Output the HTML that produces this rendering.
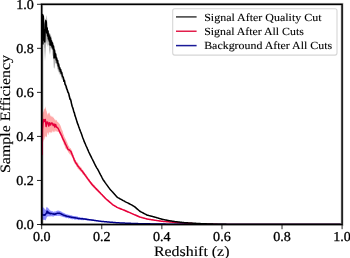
<!DOCTYPE html>
<html><head><meta charset="utf-8"><style>html,body{margin:0;padding:0;background:#fff;width:350px;height:258px;overflow:hidden}svg{display:block;will-change:transform}text{font-family:"Liberation Serif",serif;fill:#000;stroke:#000;stroke-width:0.3px;text-rendering:geometricPrecision}</style></head><body>
<svg width="350" height="258" viewBox="0 0 350 258">
<rect width="350" height="258" fill="#fff"/>
<defs><clipPath id="ax"><rect x="41.70" y="4.30" width="300.40" height="220.20"/></clipPath></defs>
<g clip-path="url(#ax)">
<line x1="42.6" y1="16" x2="42.6" y2="224.5" stroke="#000" stroke-opacity="0.55" stroke-width="1.2"/>
<polygon points="42.20,13.18 42.55,13.17 42.90,13.74 43.25,14.13 43.60,20.33 43.95,20.07 44.30,23.09 44.65,17.12 45.00,17.97 45.35,19.27 45.70,19.26 46.05,19.63 46.40,15.26 46.75,15.97 47.10,18.81 47.45,26.98 47.80,27.76 48.15,30.40 48.50,30.17 48.85,32.23 49.20,32.75 49.55,34.79 49.90,33.21 50.25,33.74 50.60,34.52 50.95,37.01 51.30,35.60 51.65,38.55 52.00,39.61 52.35,41.49 52.70,42.15 53.05,43.56 53.40,44.10 53.75,45.87 54.10,45.74 54.45,47.84 54.80,48.36 55.15,50.36 55.50,51.72 55.85,53.07 56.20,55.66 56.55,55.38 56.90,57.81 57.25,59.42 57.60,59.15 57.95,61.03 58.30,62.24 58.65,64.03 59.00,64.94 59.35,65.27 59.70,65.37 60.05,67.24 60.40,68.64 60.75,69.21 61.10,70.29 61.45,70.50 61.80,71.01 62.15,72.56 62.50,73.51 62.85,75.02 63.20,74.07 63.55,75.94 63.90,76.06 64.25,78.43 64.60,79.26 64.95,79.19 65.30,80.49 65.65,83.36 66.00,82.71 66.35,84.46 66.70,85.96 67.05,86.24 67.40,87.10 67.75,89.74 68.10,90.12 68.45,90.56 68.80,92.13 69.15,93.52 69.50,95.23 69.85,96.06 70.20,96.52 70.55,98.37 70.90,98.92 71.25,100.87 71.60,101.58 71.95,103.00 72.30,103.98 72.85,106.30 73.40,107.46 73.95,109.50 74.50,112.16 75.05,113.31 75.60,115.92 76.15,117.65 76.70,119.52 77.25,120.86 77.80,122.83 78.35,124.30 78.90,125.57 79.45,127.04 80.00,128.85 80.55,130.05 81.10,131.73 81.65,133.69 82.20,135.14 82.75,136.50 83.30,138.18 83.85,139.39 84.40,141.13 84.95,142.36 85.50,143.67 86.05,144.99 86.60,145.78 87.15,147.15 87.70,148.32 88.25,149.98 88.80,150.96 89.35,152.28 89.90,153.58 90.45,154.80 91.00,155.88 91.55,156.71 92.10,157.84 92.65,159.22 93.20,160.16 93.75,161.59 94.30,162.59 94.85,163.78 95.40,164.64 95.95,165.94 96.50,166.74 97.05,167.89 97.60,168.50 98.15,169.48 98.70,170.68 99.25,171.56 99.80,172.84 100.35,173.89 100.90,175.05 101.45,175.85 102.00,176.92 102.55,178.18 103.10,179.05 103.65,180.08 104.20,180.85 104.75,181.50 105.30,182.30 105.85,183.07 106.40,183.90 106.95,184.74 107.50,185.41 108.05,186.31 108.60,187.07 109.15,187.89 109.70,188.52 110.25,189.02 110.80,189.76 111.35,190.41 111.90,190.91 112.45,191.62 113.00,192.16 113.55,192.75 114.10,193.39 114.65,193.97 115.20,194.64 115.75,195.23 116.30,195.93 116.85,196.56 117.40,197.05 117.95,197.39 118.50,197.67 119.05,197.93 119.60,198.20 120.15,198.60 120.70,198.84 121.25,199.28 121.80,199.57 122.35,199.74 122.90,200.05 123.45,200.37 124.00,200.77 124.55,200.97 125.10,201.33 125.65,201.67 126.20,201.96 126.75,202.22 127.30,202.45 127.85,202.82 128.40,203.01 128.95,203.34 129.50,203.55 130.05,203.94 130.60,204.17 131.15,204.42 131.70,204.79 132.25,205.09 132.80,205.44 133.35,205.78 133.90,206.10 134.45,206.37 135.00,206.85 135.55,207.28 136.10,207.86 136.65,208.28 137.20,208.77 137.75,209.24 138.30,209.78 138.85,210.17 139.40,210.73 139.95,211.10 140.50,211.42 141.05,211.67 141.60,212.01 142.15,212.22 142.70,212.59 143.25,212.78 143.80,213.14 144.35,213.37 144.90,213.67 145.45,213.97 146.00,214.27 146.55,214.61 147.10,214.85 147.65,215.06 148.20,215.17 148.75,215.36 149.30,215.43 149.85,215.65 150.40,215.70 150.95,215.84 151.50,216.01 152.05,216.15 152.60,216.31 153.15,216.45 153.70,216.59 154.25,216.79 154.80,216.88 155.35,217.01 155.90,217.21 156.45,217.38 157.00,217.58 157.55,217.75 158.10,217.86 158.65,218.01 159.20,218.16 159.75,218.35 160.30,218.52 160.85,218.63 161.40,218.80 161.95,218.98 162.50,219.16 163.05,219.23 163.60,219.29 164.15,219.42 164.70,219.62 165.25,219.65 165.80,219.75 166.35,219.87 166.90,220.02 167.45,220.17 168.00,220.25 168.55,220.42 169.10,220.52 169.65,220.55 170.20,220.69 170.75,220.78 171.30,220.81 171.85,220.86 172.40,220.98 172.95,221.13 173.50,221.15 174.05,221.21 174.60,221.28 175.15,221.43 175.70,221.48 176.25,221.51 176.80,221.56 177.35,221.64 177.90,221.71 178.45,221.80 179.00,221.89 179.55,221.88 180.10,221.96 180.65,222.06 181.20,222.06 181.75,222.20 182.30,222.25 182.85,222.30 183.40,222.31 183.95,222.37 184.50,222.49 185.05,222.53 185.60,222.58 186.15,222.52 186.70,222.61 187.25,222.69 187.80,222.66 188.35,222.68 188.90,222.68 189.45,222.80 190.00,222.85 190.55,222.84 191.10,222.92 191.65,222.96 192.20,222.88 192.75,223.00 193.30,223.00 193.85,222.99 194.40,223.09 194.95,223.15 195.50,223.10 196.05,223.22 196.60,223.17 197.15,223.20 197.70,223.29 198.25,223.33 198.80,223.35 199.35,223.34 199.90,223.37 200.45,223.41 201.00,223.40 201.55,223.49 202.10,223.43 202.65,223.46 203.20,223.56 203.75,223.52 204.30,223.54 204.85,223.55 205.40,223.65 205.95,223.62 206.50,223.64 207.05,223.69 207.60,223.68 208.15,223.73 208.70,223.74 209.25,223.80 209.80,223.84 210.35,223.86 210.90,223.88 211.45,223.88 212.00,223.94 212.55,223.88 213.10,223.90 213.65,224.00 214.20,223.98 214.75,223.95 215.30,224.06 215.85,223.96 216.40,224.07 216.95,224.08 217.50,224.00 218.05,224.03 218.60,224.04 219.15,224.11 219.70,224.04 220.25,224.10 220.80,224.14 221.35,224.12 221.90,224.12 222.45,224.06 223.00,224.08 223.55,224.18 224.10,224.14 224.65,224.16 225.20,224.15 225.75,224.12 226.30,224.13 226.85,224.24 227.40,224.15 227.95,224.25 228.50,224.20 229.05,224.25 229.60,224.24 230.15,224.26 230.70,224.26 231.25,224.22 231.80,224.30 232.35,224.31 232.90,224.24 233.45,224.26 234.00,224.30 234.55,224.25 235.10,224.25 235.65,224.34 236.20,224.25 236.75,224.31 237.30,224.33 237.85,224.30 238.40,224.27 238.95,224.32 239.50,224.34 240.05,224.28 240.60,224.34 241.15,224.27 241.70,224.34 242.25,224.25 242.80,224.34 243.35,224.28 243.90,224.34 244.45,224.33 245.00,224.30 245.55,224.32 246.10,224.24 246.65,224.35 247.20,224.35 247.75,224.24 248.30,224.27 248.85,224.34 249.40,224.35 249.95,224.31 250.50,224.31 251.05,224.28 251.60,224.28 252.15,224.34 252.70,224.31 253.25,224.25 253.80,224.29 254.35,224.31 254.90,224.27 255.45,224.27 256.00,224.26 256.55,224.28 257.10,224.32 257.65,224.35 258.20,224.27 258.75,224.28 259.30,224.31 259.85,224.29 260.40,224.28 260.95,224.34 261.50,224.27 262.05,224.30 262.60,224.36 263.15,224.34 263.70,224.25 264.25,224.35 264.80,224.30 265.35,224.30 265.90,224.26 266.45,224.31 267.00,224.33 267.55,224.31 268.10,224.35 268.65,224.32 269.20,224.33 269.75,224.36 270.30,224.31 270.85,224.32 271.40,224.33 271.95,224.25 272.50,224.33 273.05,224.31 273.60,224.34 274.15,224.26 274.70,224.30 275.25,224.33 275.80,224.32 276.35,224.26 276.90,224.30 277.45,224.29 278.00,224.26 278.55,224.26 279.10,224.31 279.65,224.31 280.20,224.36 280.75,224.33 281.30,224.32 281.85,224.31 282.40,224.28 282.95,224.25 283.50,224.35 284.05,224.25 284.60,224.34 285.15,224.28 285.70,224.36 286.25,224.28 286.80,224.35 287.35,224.33 287.90,224.32 288.45,224.25 289.00,224.34 289.55,224.29 290.10,224.28 290.65,224.27 291.20,224.34 291.75,224.30 292.30,224.31 292.85,224.29 293.40,224.33 293.95,224.30 294.50,224.30 295.05,224.30 295.60,224.30 296.15,224.36 296.70,224.30 297.25,224.28 297.80,224.32 298.35,224.24 298.90,224.28 299.45,224.36 300.00,224.28 300.55,224.32 301.10,224.30 301.65,224.25 302.20,224.27 302.75,224.32 303.30,224.32 303.85,224.30 304.40,224.33 304.95,224.31 305.50,224.26 306.05,224.26 306.60,224.30 307.15,224.30 307.70,224.28 308.25,224.32 308.80,224.32 309.35,224.28 309.90,224.36 310.45,224.25 311.00,224.35 311.55,224.36 312.10,224.25 312.65,224.28 313.20,224.25 313.75,224.29 314.30,224.28 314.85,224.28 315.40,224.28 315.95,224.27 316.50,224.34 317.05,224.27 317.60,224.28 318.15,224.26 318.70,224.29 319.25,224.32 319.80,224.32 320.35,224.28 320.90,224.35 321.45,224.36 322.00,224.26 322.55,224.25 323.10,224.36 323.65,224.29 324.20,224.24 324.75,224.31 325.30,224.28 325.85,224.34 326.40,224.36 326.95,224.35 327.50,224.35 328.05,224.34 328.60,224.27 329.15,224.27 329.70,224.35 330.25,224.27 330.80,224.27 331.35,224.28 331.90,224.30 332.45,224.33 333.00,224.27 333.55,224.36 334.10,224.26 334.65,224.32 335.20,224.34 335.75,224.30 336.30,224.32 336.85,224.31 337.40,224.34 337.95,224.32 338.50,224.28 339.05,224.31 339.60,224.25 340.15,224.29 340.70,224.35 340.70,224.76 340.15,224.68 339.60,224.73 339.05,224.73 338.50,224.69 337.95,224.72 337.40,224.74 336.85,224.72 336.30,224.71 335.75,224.65 335.20,224.74 334.65,224.73 334.10,224.65 333.55,224.72 333.00,224.64 332.45,224.76 331.90,224.75 331.35,224.73 330.80,224.65 330.25,224.74 329.70,224.73 329.15,224.66 328.60,224.67 328.05,224.64 327.50,224.74 326.95,224.76 326.40,224.72 325.85,224.64 325.30,224.67 324.75,224.65 324.20,224.70 323.65,224.75 323.10,224.69 322.55,224.69 322.00,224.71 321.45,224.65 320.90,224.71 320.35,224.75 319.80,224.69 319.25,224.69 318.70,224.67 318.15,224.73 317.60,224.68 317.05,224.75 316.50,224.64 315.95,224.65 315.40,224.69 314.85,224.67 314.30,224.71 313.75,224.72 313.20,224.71 312.65,224.73 312.10,224.71 311.55,224.66 311.00,224.68 310.45,224.71 309.90,224.73 309.35,224.73 308.80,224.71 308.25,224.68 307.70,224.74 307.15,224.76 306.60,224.67 306.05,224.69 305.50,224.68 304.95,224.71 304.40,224.69 303.85,224.73 303.30,224.70 302.75,224.74 302.20,224.72 301.65,224.64 301.10,224.70 300.55,224.76 300.00,224.75 299.45,224.71 298.90,224.72 298.35,224.65 297.80,224.69 297.25,224.74 296.70,224.71 296.15,224.74 295.60,224.74 295.05,224.70 294.50,224.66 293.95,224.65 293.40,224.66 292.85,224.67 292.30,224.75 291.75,224.73 291.20,224.72 290.65,224.74 290.10,224.75 289.55,224.73 289.00,224.75 288.45,224.74 287.90,224.66 287.35,224.73 286.80,224.66 286.25,224.67 285.70,224.75 285.15,224.64 284.60,224.74 284.05,224.73 283.50,224.74 282.95,224.74 282.40,224.68 281.85,224.72 281.30,224.70 280.75,224.67 280.20,224.73 279.65,224.66 279.10,224.67 278.55,224.67 278.00,224.68 277.45,224.66 276.90,224.68 276.35,224.74 275.80,224.72 275.25,224.76 274.70,224.71 274.15,224.72 273.60,224.73 273.05,224.67 272.50,224.74 271.95,224.70 271.40,224.73 270.85,224.67 270.30,224.72 269.75,224.69 269.20,224.69 268.65,224.65 268.10,224.76 267.55,224.73 267.00,224.72 266.45,224.75 265.90,224.70 265.35,224.72 264.80,224.73 264.25,224.71 263.70,224.70 263.15,224.73 262.60,224.71 262.05,224.76 261.50,224.69 260.95,224.72 260.40,224.75 259.85,224.69 259.30,224.69 258.75,224.67 258.20,224.73 257.65,224.69 257.10,224.72 256.55,224.69 256.00,224.72 255.45,224.72 254.90,224.75 254.35,224.67 253.80,224.73 253.25,224.69 252.70,224.73 252.15,224.71 251.60,224.70 251.05,224.70 250.50,224.73 249.95,224.64 249.40,224.66 248.85,224.72 248.30,224.69 247.75,224.74 247.20,224.69 246.65,224.76 246.10,224.73 245.55,224.66 245.00,224.66 244.45,224.68 243.90,224.66 243.35,224.74 242.80,224.68 242.25,224.67 241.70,224.70 241.15,224.71 240.60,224.69 240.05,224.73 239.50,224.74 238.95,224.68 238.40,224.72 237.85,224.73 237.30,224.70 236.75,224.75 236.20,224.70 235.65,224.67 235.10,224.64 234.55,224.64 234.00,224.67 233.45,224.66 232.90,224.70 232.35,224.69 231.80,224.67 231.25,224.64 230.70,224.60 230.15,224.68 229.60,224.66 229.05,224.61 228.50,224.64 227.95,224.59 227.40,224.64 226.85,224.54 226.30,224.53 225.75,224.51 225.20,224.52 224.65,224.57 224.10,224.57 223.55,224.52 223.00,224.53 222.45,224.51 221.90,224.48 221.35,224.52 220.80,224.46 220.25,224.47 219.70,224.44 219.15,224.41 218.60,224.43 218.05,224.48 217.50,224.48 216.95,224.37 216.40,224.39 215.85,224.47 215.30,224.45 214.75,224.44 214.20,224.41 213.65,224.36 213.10,224.35 212.55,224.32 212.00,224.23 211.45,224.22 210.90,224.29 210.35,224.16 209.80,224.24 209.25,224.18 208.70,224.13 208.15,224.15 207.60,224.15 207.05,224.12 206.50,224.12 205.95,224.06 205.40,224.07 204.85,223.97 204.30,223.95 203.75,224.00 203.20,223.90 202.65,223.85 202.10,223.85 201.55,223.88 201.00,223.84 200.45,223.81 199.90,223.77 199.35,223.80 198.80,223.76 198.25,223.64 197.70,223.61 197.15,223.62 196.60,223.59 196.05,223.60 195.50,223.56 194.95,223.54 194.40,223.44 193.85,223.39 193.30,223.42 192.75,223.38 192.20,223.29 191.65,223.31 191.10,223.30 190.55,223.20 190.00,223.20 189.45,223.22 188.90,223.16 188.35,223.10 187.80,223.05 187.25,223.05 186.70,222.97 186.15,223.00 185.60,222.95 185.05,222.86 184.50,222.90 183.95,222.78 183.40,222.69 182.85,222.67 182.30,222.59 181.75,222.53 181.20,222.43 180.65,222.39 180.10,222.41 179.55,222.29 179.00,222.20 178.45,222.12 177.90,222.14 177.35,222.12 176.80,221.97 176.25,221.88 175.70,221.84 175.15,221.85 174.60,221.75 174.05,221.63 173.50,221.56 172.95,221.54 172.40,221.45 171.85,221.32 171.30,221.21 170.75,221.15 170.20,221.09 169.65,221.02 169.10,220.94 168.55,220.73 168.00,220.63 167.45,220.51 166.90,220.48 166.35,220.27 165.80,220.18 165.25,220.05 164.70,219.96 164.15,219.92 163.60,219.71 163.05,219.70 162.50,219.59 161.95,219.45 161.40,219.32 160.85,219.05 160.30,218.91 159.75,218.71 159.20,218.64 158.65,218.39 158.10,218.22 157.55,218.11 157.00,217.94 156.45,217.74 155.90,217.58 155.35,217.49 154.80,217.26 154.25,217.16 153.70,217.00 153.15,216.88 152.60,216.73 152.05,216.56 151.50,216.45 150.95,216.25 150.40,216.10 149.85,216.02 149.30,215.93 148.75,215.70 148.20,215.58 147.65,215.44 147.10,215.27 146.55,215.07 146.00,214.69 145.45,214.40 144.90,214.16 144.35,213.84 143.80,213.51 143.25,213.34 142.70,212.93 142.15,212.75 141.60,212.40 141.05,212.17 140.50,211.79 139.95,211.53 139.40,211.13 138.85,210.69 138.30,210.17 137.75,209.64 137.20,209.25 136.65,208.77 136.10,208.30 135.55,207.73 135.00,207.25 134.45,206.95 133.90,206.53 133.35,206.22 132.80,205.95 132.25,205.52 131.70,205.25 131.15,204.85 130.60,204.64 130.05,204.30 129.50,204.08 128.95,203.76 128.40,203.47 127.85,203.22 127.30,202.92 126.75,202.70 126.20,202.37 125.65,202.11 125.10,201.87 124.55,201.49 124.00,201.30 123.45,200.94 122.90,200.63 122.35,200.36 121.80,200.00 121.25,199.72 120.70,199.52 120.15,199.20 119.60,198.78 119.05,198.57 118.50,198.20 117.95,198.03 117.40,197.62 116.85,197.16 116.30,196.44 115.75,195.82 115.20,195.25 114.65,194.62 114.10,193.98 113.55,193.51 113.00,192.87 112.45,192.21 111.90,191.61 111.35,191.01 110.80,190.32 110.25,189.90 109.70,189.29 109.15,188.52 108.60,187.66 108.05,187.05 107.50,186.14 106.95,185.44 106.40,184.67 105.85,184.02 105.30,183.25 104.75,182.36 104.20,181.68 103.65,180.86 103.10,180.18 102.55,179.00 102.00,177.83 101.45,176.95 100.90,175.94 100.35,174.75 99.80,173.84 99.25,172.76 98.70,171.61 98.15,170.76 97.60,169.66 97.05,168.71 96.50,167.83 95.95,167.20 95.40,165.82 94.85,164.85 94.30,163.97 93.75,162.71 93.20,161.60 92.65,160.67 92.10,159.32 91.55,158.19 91.00,157.20 90.45,155.95 89.90,155.01 89.35,153.91 88.80,152.51 88.25,151.74 87.70,150.21 87.15,149.35 86.60,148.07 86.05,146.58 85.50,145.16 84.95,144.50 84.40,142.93 83.85,141.93 83.30,140.15 82.75,138.56 82.20,137.66 81.65,136.10 81.10,134.27 80.55,132.85 80.00,131.28 79.45,130.23 78.90,128.30 78.35,127.01 77.80,125.18 77.25,124.53 76.70,122.43 76.15,121.14 75.60,118.66 75.05,117.55 74.50,115.25 73.95,113.69 73.40,112.08 72.85,110.05 72.30,107.67 71.95,106.77 71.60,106.07 71.25,104.23 70.90,103.92 70.55,102.15 70.20,101.19 69.85,100.46 69.50,99.26 69.15,97.95 68.80,97.14 68.45,96.05 68.10,94.97 67.75,93.42 67.40,92.49 67.05,92.02 66.70,91.03 66.35,89.15 66.00,88.53 65.65,87.69 65.30,86.02 64.95,85.71 64.60,84.30 64.25,83.07 63.90,82.09 63.55,81.88 63.20,80.54 62.85,80.09 62.50,79.56 62.15,79.29 61.80,78.38 61.45,78.66 61.10,76.55 60.75,75.40 60.40,74.63 60.05,73.98 59.70,74.99 59.35,72.20 59.00,73.75 58.65,71.34 58.30,71.79 57.95,70.92 57.60,69.00 57.25,68.71 56.90,65.94 56.55,64.33 56.20,63.10 55.85,63.70 55.50,63.02 55.15,62.98 54.80,66.72 54.45,69.01 54.10,67.72 53.75,67.75 53.40,60.58 53.05,55.51 52.70,55.94 52.35,53.50 52.00,49.00 51.65,49.54 51.30,49.43 50.95,48.10 50.60,48.87 50.25,54.38 49.90,50.15 49.55,54.94 49.20,52.36 48.85,45.80 48.50,44.68 48.15,45.03 47.80,41.07 47.45,47.17 47.10,45.28 46.75,43.75 46.40,40.53 46.05,45.00 45.70,50.54 45.35,61.14 45.00,50.48 44.65,61.50 44.30,48.18 43.95,47.20 43.60,39.41 43.25,35.43 42.90,37.91 42.55,35.12 42.20,37.92" fill="#000" fill-opacity="0.3"/>
<polygon points="42.20,115.35 42.55,112.91 42.90,113.64 43.25,111.49 43.60,111.71 43.95,109.05 44.30,108.43 44.65,108.80 45.00,110.07 45.35,106.35 45.70,107.64 46.05,109.27 46.40,110.87 46.75,111.59 47.10,113.66 47.45,115.56 47.80,112.88 48.15,114.22 48.50,112.83 48.85,112.63 49.20,114.96 49.55,112.02 49.90,112.96 50.25,115.50 50.60,116.42 50.95,115.29 51.30,115.93 51.65,117.19 52.00,116.00 52.35,116.74 52.70,117.61 53.05,116.25 53.40,118.34 53.75,117.47 54.10,118.48 54.45,119.06 54.80,119.86 55.15,119.29 55.50,120.49 55.85,120.58 56.20,119.65 56.75,120.41 57.30,121.77 57.85,121.90 58.40,122.60 58.95,123.21 59.50,123.65 60.05,124.75 60.60,125.99 61.15,127.47 61.70,129.42 62.25,130.25 62.80,131.64 63.35,134.00 63.90,135.00 64.45,136.90 65.00,137.82 65.55,139.01 66.10,139.96 66.65,141.47 67.20,142.56 67.75,144.02 68.30,145.41 68.85,145.93 69.40,147.37 69.95,148.84 70.50,147.83 71.05,149.03 71.60,150.20 72.15,151.26 72.70,152.98 73.25,154.75 73.80,155.91 74.35,157.68 74.90,158.67 75.45,159.84 76.00,160.69 76.55,161.85 77.10,162.48 77.65,162.40 78.20,163.32 78.75,165.22 79.30,166.05 79.85,165.85 80.40,166.89 80.95,167.20 81.50,167.71 82.05,168.69 82.60,170.04 83.15,170.02 83.70,171.68 84.25,172.33 84.80,172.96 85.35,174.07 85.90,174.18 86.45,174.76 87.00,175.70 87.55,176.78 88.10,177.64 88.65,177.90 89.20,179.23 89.75,179.42 90.30,180.98 90.85,181.67 91.40,182.33 91.95,182.59 92.50,183.31 93.05,183.86 93.60,184.87 94.15,184.88 94.70,185.50 95.25,186.25 95.80,186.94 96.35,188.00 96.90,188.28 97.45,188.48 98.00,189.20 98.55,189.84 99.10,190.76 99.65,190.82 100.20,191.72 100.75,192.65 101.30,192.98 101.85,193.63 102.40,193.95 102.95,194.84 103.50,195.24 104.05,195.55 104.60,196.54 105.15,197.22 105.70,197.68 106.25,198.07 106.80,198.78 107.35,199.01 107.90,199.40 108.45,200.26 109.00,200.60 109.55,201.25 110.10,201.66 110.65,202.01 111.20,202.56 111.75,203.02 112.30,203.65 112.85,203.67 113.40,204.48 113.95,204.39 114.50,205.17 115.05,205.36 115.60,205.65 116.15,205.83 116.70,206.31 117.25,206.65 117.80,207.07 118.35,207.39 118.90,207.26 119.45,207.77 120.00,207.72 120.55,208.23 121.10,208.19 121.65,208.62 122.20,208.64 122.75,209.05 123.30,209.28 123.85,209.56 124.40,209.66 124.95,209.79 125.50,210.00 126.05,210.40 126.60,210.77 127.15,210.86 127.70,211.07 128.25,211.41 128.80,211.78 129.35,211.90 129.90,212.05 130.45,212.26 131.00,212.53 131.55,212.94 132.10,213.11 132.65,213.42 133.20,213.56 133.75,213.72 134.30,214.16 134.85,214.32 135.40,214.68 135.95,214.89 136.50,214.93 137.05,215.21 137.60,215.42 138.15,215.71 138.70,216.00 139.25,216.35 139.80,216.40 140.35,216.64 140.90,216.88 141.45,217.12 142.00,217.09 142.55,217.41 143.10,217.49 143.65,217.63 144.20,217.74 144.75,218.01 145.30,217.96 145.85,218.32 146.40,218.43 146.95,218.51 147.50,218.63 148.05,218.79 148.60,218.91 149.15,218.88 149.70,219.02 150.25,219.11 150.80,219.17 151.35,219.21 151.90,219.24 152.45,219.55 153.00,219.57 153.55,219.53 154.10,219.66 154.65,219.75 155.20,219.97 155.75,220.10 156.30,220.14 156.85,220.11 157.40,220.15 157.95,220.24 158.50,220.31 159.05,220.57 159.60,220.61 160.15,220.62 160.70,220.83 161.25,220.77 161.80,220.86 162.35,220.94 162.90,221.00 163.45,221.14 164.00,221.06 164.55,221.22 165.10,221.12 165.65,221.33 166.20,221.37 166.75,221.40 167.30,221.43 167.85,221.45 168.40,221.39 168.95,221.48 169.50,221.48 170.05,221.66 170.60,221.68 171.15,221.66 171.70,221.85 172.25,221.79 172.80,221.89 173.35,221.86 173.90,221.91 174.45,222.13 175.00,222.15 175.55,222.13 176.10,222.26 176.65,222.25 177.20,222.32 177.75,222.45 178.30,222.44 178.85,222.46 179.40,222.60 179.95,222.52 180.50,222.64 181.05,222.67 181.60,222.65 182.15,222.58 182.70,222.70 183.25,222.67 183.80,222.74 184.35,222.83 184.90,222.77 185.45,222.77 186.00,222.93 186.55,222.87 187.10,222.92 187.65,222.97 188.20,223.10 188.75,223.08 189.30,223.07 189.85,223.15 190.40,223.16 190.95,223.26 191.50,223.20 192.05,223.21 192.60,223.31 193.15,223.32 193.70,223.27 194.25,223.25 194.80,223.29 195.35,223.47 195.90,223.40 196.45,223.47 197.00,223.48 197.55,223.57 198.10,223.43 198.65,223.57 199.20,223.61 199.75,223.53 200.30,223.61 200.85,223.60 201.40,223.61 201.95,223.62 202.50,223.67 203.05,223.65 203.60,223.76 204.15,223.81 204.70,223.70 205.25,223.72 205.80,223.85 206.35,223.81 206.90,223.83 207.45,223.97 208.00,223.99 208.55,223.96 209.10,223.93 209.65,223.98 210.20,223.91 210.75,223.91 211.30,223.98 211.85,224.04 212.40,224.08 212.95,223.97 213.50,223.97 214.05,224.02 214.60,224.03 215.15,224.02 215.70,224.00 216.25,224.01 216.80,224.01 217.35,224.01 217.90,224.08 218.45,224.07 219.00,224.15 219.55,224.09 220.10,224.04 220.65,224.01 221.20,224.06 221.75,224.20 222.30,224.20 222.85,224.11 223.40,224.05 223.95,224.20 224.50,224.10 225.05,224.21 225.60,224.10 226.15,224.07 226.70,224.14 227.25,224.11 227.80,224.20 228.35,224.25 228.90,224.26 229.45,224.21 230.00,224.28 230.55,224.21 231.10,224.11 231.65,224.25 232.20,224.24 232.75,224.24 233.30,224.15 233.85,224.23 234.40,224.25 234.95,224.26 235.50,224.13 236.05,224.15 236.60,224.24 237.15,224.20 237.70,224.26 238.25,224.18 238.80,224.18 239.35,224.25 239.90,224.22 240.45,224.13 241.00,224.13 241.55,224.23 242.10,224.27 242.65,224.29 243.20,224.26 243.75,224.27 244.30,224.16 244.85,224.23 245.40,224.16 245.95,224.11 246.50,224.25 247.05,224.16 247.60,224.20 248.15,224.21 248.70,224.28 249.25,224.23 249.80,224.27 250.35,224.26 250.90,224.26 251.45,224.26 252.00,224.20 252.55,224.22 253.10,224.12 253.65,224.25 254.20,224.13 254.75,224.24 255.30,224.24 255.85,224.28 256.40,224.21 256.95,224.22 257.50,224.16 258.05,224.19 258.60,224.16 259.15,224.13 259.70,224.22 260.25,224.21 260.80,224.22 261.35,224.21 261.90,224.11 262.45,224.18 263.00,224.24 263.55,224.22 264.10,224.25 264.65,224.14 265.20,224.12 265.75,224.16 266.30,224.17 266.85,224.23 267.40,224.29 267.95,224.14 268.50,224.18 269.05,224.25 269.60,224.16 270.15,224.16 270.70,224.19 271.25,224.17 271.80,224.18 272.35,224.25 272.90,224.24 273.45,224.20 274.00,224.20 274.55,224.25 275.10,224.12 275.65,224.19 276.20,224.14 276.75,224.26 277.30,224.21 277.85,224.14 278.40,224.13 278.95,224.22 279.50,224.14 280.05,224.26 280.60,224.27 281.15,224.14 281.70,224.21 282.25,224.22 282.80,224.16 283.35,224.20 283.90,224.15 284.45,224.17 285.00,224.20 285.55,224.22 286.10,224.22 286.65,224.25 287.20,224.28 287.75,224.16 288.30,224.23 288.85,224.14 289.40,224.17 289.95,224.25 290.50,224.15 291.05,224.22 291.60,224.21 292.15,224.16 292.70,224.22 293.25,224.14 293.80,224.22 294.35,224.12 294.90,224.11 295.45,224.22 296.00,224.23 296.55,224.15 297.10,224.20 297.65,224.13 298.20,224.29 298.75,224.21 299.30,224.14 299.85,224.20 300.40,224.21 300.95,224.20 301.50,224.17 302.05,224.22 302.60,224.17 303.15,224.15 303.70,224.27 304.25,224.28 304.80,224.27 305.35,224.15 305.90,224.28 306.45,224.16 307.00,224.28 307.55,224.21 308.10,224.11 308.65,224.13 309.20,224.23 309.75,224.29 310.30,224.24 310.85,224.23 311.40,224.14 311.95,224.20 312.50,224.28 313.05,224.13 313.60,224.14 314.15,224.25 314.70,224.19 315.25,224.21 315.80,224.18 316.35,224.15 316.90,224.12 317.45,224.28 318.00,224.19 318.55,224.19 319.10,224.24 319.65,224.24 320.20,224.15 320.75,224.21 321.30,224.21 321.85,224.28 322.40,224.17 322.95,224.13 323.50,224.18 324.05,224.12 324.60,224.15 325.15,224.17 325.70,224.24 326.25,224.14 326.80,224.12 327.35,224.27 327.90,224.15 328.45,224.22 329.00,224.24 329.55,224.17 330.10,224.28 330.65,224.28 331.20,224.24 331.75,224.19 332.30,224.19 332.85,224.13 333.40,224.14 333.95,224.15 334.50,224.22 335.05,224.22 335.60,224.25 336.15,224.27 336.70,224.16 337.25,224.17 337.80,224.14 338.35,224.12 338.90,224.12 339.45,224.24 340.00,224.15 340.55,224.12 340.55,224.73 340.00,224.80 339.45,224.77 338.90,224.80 338.35,224.89 337.80,224.73 337.25,224.73 336.70,224.79 336.15,224.79 335.60,224.81 335.05,224.83 334.50,224.72 333.95,224.89 333.40,224.74 332.85,224.77 332.30,224.74 331.75,224.77 331.20,224.75 330.65,224.86 330.10,224.84 329.55,224.74 329.00,224.87 328.45,224.83 327.90,224.88 327.35,224.73 326.80,224.75 326.25,224.74 325.70,224.75 325.15,224.83 324.60,224.80 324.05,224.81 323.50,224.74 322.95,224.72 322.40,224.72 321.85,224.79 321.30,224.87 320.75,224.88 320.20,224.82 319.65,224.84 319.10,224.85 318.55,224.77 318.00,224.78 317.45,224.77 316.90,224.81 316.35,224.75 315.80,224.78 315.25,224.80 314.70,224.78 314.15,224.72 313.60,224.76 313.05,224.85 312.50,224.76 311.95,224.79 311.40,224.81 310.85,224.76 310.30,224.76 309.75,224.89 309.20,224.80 308.65,224.74 308.10,224.86 307.55,224.82 307.00,224.83 306.45,224.80 305.90,224.83 305.35,224.81 304.80,224.73 304.25,224.86 303.70,224.75 303.15,224.85 302.60,224.81 302.05,224.72 301.50,224.84 300.95,224.86 300.40,224.80 299.85,224.87 299.30,224.78 298.75,224.79 298.20,224.82 297.65,224.85 297.10,224.80 296.55,224.78 296.00,224.72 295.45,224.83 294.90,224.84 294.35,224.74 293.80,224.81 293.25,224.77 292.70,224.83 292.15,224.76 291.60,224.78 291.05,224.72 290.50,224.82 289.95,224.79 289.40,224.87 288.85,224.73 288.30,224.75 287.75,224.76 287.20,224.74 286.65,224.81 286.10,224.71 285.55,224.77 285.00,224.75 284.45,224.78 283.90,224.74 283.35,224.85 282.80,224.79 282.25,224.89 281.70,224.73 281.15,224.80 280.60,224.77 280.05,224.76 279.50,224.73 278.95,224.86 278.40,224.72 277.85,224.87 277.30,224.83 276.75,224.86 276.20,224.75 275.65,224.81 275.10,224.81 274.55,224.74 274.00,224.80 273.45,224.84 272.90,224.87 272.35,224.82 271.80,224.81 271.25,224.77 270.70,224.82 270.15,224.78 269.60,224.78 269.05,224.82 268.50,224.89 267.95,224.80 267.40,224.85 266.85,224.89 266.30,224.81 265.75,224.77 265.20,224.72 264.65,224.85 264.10,224.73 263.55,224.75 263.00,224.82 262.45,224.88 261.90,224.71 261.35,224.74 260.80,224.78 260.25,224.89 259.70,224.77 259.15,224.84 258.60,224.89 258.05,224.81 257.50,224.83 256.95,224.71 256.40,224.81 255.85,224.80 255.30,224.72 254.75,224.74 254.20,224.84 253.65,224.89 253.10,224.77 252.55,224.80 252.00,224.73 251.45,224.85 250.90,224.84 250.35,224.79 249.80,224.80 249.25,224.87 248.70,224.89 248.15,224.73 247.60,224.75 247.05,224.72 246.50,224.86 245.95,224.72 245.40,224.87 244.85,224.88 244.30,224.73 243.75,224.74 243.20,224.85 242.65,224.88 242.10,224.89 241.55,224.72 241.00,224.89 240.45,224.75 239.90,224.85 239.35,224.87 238.80,224.87 238.25,224.80 237.70,224.84 237.15,224.87 236.60,224.77 236.05,224.86 235.50,224.76 234.95,224.87 234.40,224.82 233.85,224.89 233.30,224.83 232.75,224.75 232.20,224.79 231.65,224.76 231.10,224.83 230.55,224.88 230.00,224.82 229.45,224.87 228.90,224.82 228.35,224.83 227.80,224.86 227.25,224.77 226.70,224.74 226.15,224.77 225.60,224.71 225.05,224.67 224.50,224.83 223.95,224.69 223.40,224.72 222.85,224.68 222.30,224.73 221.75,224.66 221.20,224.64 220.65,224.66 220.10,224.68 219.55,224.73 219.00,224.61 218.45,224.77 217.90,224.65 217.35,224.77 216.80,224.64 216.25,224.72 215.70,224.62 215.15,224.63 214.60,224.68 214.05,224.67 213.50,224.63 212.95,224.56 212.40,224.57 211.85,224.55 211.30,224.67 210.75,224.54 210.20,224.62 209.65,224.51 209.10,224.53 208.55,224.55 208.00,224.56 207.45,224.49 206.90,224.46 206.35,224.45 205.80,224.49 205.25,224.37 204.70,224.43 204.15,224.39 203.60,224.29 203.05,224.41 202.50,224.24 201.95,224.38 201.40,224.21 200.85,224.32 200.30,224.17 199.75,224.15 199.20,224.14 198.65,224.07 198.10,224.10 197.55,224.12 197.00,224.17 196.45,224.13 195.90,224.15 195.35,223.97 194.80,224.03 194.25,223.95 193.70,223.96 193.15,223.89 192.60,223.81 192.05,223.83 191.50,223.83 190.95,223.88 190.40,223.71 189.85,223.70 189.30,223.70 188.75,223.79 188.20,223.63 187.65,223.62 187.10,223.58 186.55,223.58 186.00,223.60 185.45,223.56 184.90,223.57 184.35,223.42 183.80,223.46 183.25,223.46 182.70,223.43 182.15,223.26 181.60,223.41 181.05,223.31 180.50,223.26 179.95,223.19 179.40,223.11 178.85,223.23 178.30,222.98 177.75,223.05 177.20,222.95 176.65,222.95 176.10,222.85 175.55,222.74 175.00,222.86 174.45,222.70 173.90,222.71 173.35,222.61 172.80,222.51 172.25,222.51 171.70,222.55 171.15,222.33 170.60,222.46 170.05,222.26 169.50,222.18 168.95,222.30 168.40,222.20 167.85,222.07 167.30,222.15 166.75,222.07 166.20,222.08 165.65,221.87 165.10,221.95 164.55,221.87 164.00,221.79 163.45,221.89 162.90,221.82 162.35,221.62 161.80,221.56 161.25,221.68 160.70,221.47 160.15,221.50 159.60,221.40 159.05,221.32 158.50,221.27 157.95,221.12 157.40,221.05 156.85,220.92 156.30,220.82 155.75,220.81 155.20,220.67 154.65,220.52 154.10,220.45 153.55,220.47 153.00,220.28 152.45,220.36 151.90,220.25 151.35,220.01 150.80,220.07 150.25,220.02 149.70,219.74 149.15,219.65 148.60,219.68 148.05,219.61 147.50,219.51 146.95,219.33 146.40,219.14 145.85,219.20 145.30,218.97 144.75,218.72 144.20,218.64 143.65,218.53 143.10,218.40 142.55,218.27 142.00,218.07 141.45,217.85 140.90,217.90 140.35,217.59 139.80,217.49 139.25,217.29 138.70,217.07 138.15,216.67 137.60,216.60 137.05,216.47 136.50,216.22 135.95,215.85 135.40,215.50 134.85,215.34 134.30,215.14 133.75,214.81 133.20,214.79 132.65,214.43 132.10,214.19 131.55,214.04 131.00,213.72 130.45,213.63 129.90,213.11 129.35,212.93 128.80,212.65 128.25,212.74 127.70,212.22 127.15,211.95 126.60,211.80 126.05,211.64 125.50,211.57 124.95,211.25 124.40,211.01 123.85,210.57 123.30,210.67 122.75,210.35 122.20,210.05 121.65,209.78 121.10,209.80 120.55,209.61 120.00,209.46 119.45,209.13 118.90,208.77 118.35,208.77 117.80,208.28 117.25,208.11 116.70,208.09 116.15,207.63 115.60,207.01 115.05,206.77 114.50,206.58 113.95,206.29 113.40,206.04 112.85,205.72 112.30,204.89 111.75,204.51 111.20,204.20 110.65,203.55 110.10,203.41 109.55,202.72 109.00,202.22 108.45,201.81 107.90,201.66 107.35,200.99 106.80,200.66 106.25,200.26 105.70,199.81 105.15,199.10 104.60,198.76 104.05,197.87 103.50,197.38 102.95,196.70 102.40,196.44 101.85,195.53 101.30,195.03 100.75,194.59 100.20,193.96 99.65,193.70 99.10,193.09 98.55,192.74 98.00,191.61 97.45,191.13 96.90,190.88 96.35,190.49 95.80,189.74 95.25,189.52 94.70,188.86 94.15,188.09 93.60,187.25 93.05,187.36 92.50,186.43 91.95,185.53 91.40,185.60 90.85,184.78 90.30,183.55 89.75,183.20 89.20,181.93 88.65,181.98 88.10,180.46 87.55,180.48 87.00,179.31 86.45,178.92 85.90,177.75 85.35,177.16 84.80,176.51 84.25,175.56 83.70,174.63 83.15,174.73 82.60,174.30 82.05,172.75 81.50,172.36 80.95,171.60 80.40,171.55 79.85,170.52 79.30,170.37 78.75,169.19 78.20,169.34 77.65,168.45 77.10,167.11 76.55,166.82 76.00,165.27 75.45,164.23 74.90,163.97 74.35,162.77 73.80,161.64 73.25,160.67 72.70,158.02 72.15,157.14 71.60,156.51 71.05,155.46 70.50,154.42 69.95,154.47 69.40,153.70 68.85,152.86 68.30,152.39 67.75,151.11 67.20,150.08 66.65,149.31 66.10,149.30 65.55,148.43 65.00,147.27 64.45,145.22 63.90,144.65 63.35,142.43 62.80,141.22 62.25,140.37 61.70,138.56 61.15,136.82 60.60,135.84 60.05,134.56 59.50,134.02 58.95,131.97 58.40,132.20 57.85,131.73 57.30,131.80 56.75,131.52 56.20,131.36 55.85,131.39 55.50,131.60 55.15,130.30 54.80,130.74 54.45,132.02 54.10,132.13 53.75,130.98 53.40,132.18 53.05,132.15 52.70,130.25 52.35,131.83 52.00,132.98 51.65,132.99 51.30,131.80 50.95,131.95 50.60,133.65 50.25,131.79 49.90,132.23 49.55,132.55 49.20,132.05 48.85,134.68 48.50,134.95 48.15,132.55 47.80,132.53 47.45,133.24 47.10,134.78 46.75,137.61 46.40,136.71 46.05,136.84 45.70,135.54 45.35,137.54 45.00,136.13 44.65,138.96 44.30,140.10 43.95,135.64 43.60,142.56 43.25,140.62 42.90,138.76 42.55,141.50 42.20,141.27" fill="#ff0000" fill-opacity="0.34"/>
<polyline points="42.10,155.00 42.40,130.00 43.00,123.00 43.80,119.50 44.60,121.50 45.30,119.50 46.10,126.50 47.00,122.00 47.90,122.50 48.80,126.00 49.70,122.80 50.60,125.00 51.50,123.00 52.40,123.20 53.20,125.50 54.00,124.00 54.80,127.00 55.60,124.50 56.40,127.00 57.30,127.50 58.20,128.50 59.10,130.50 60.00,132.50 60.50,133.33 61.05,134.64 61.60,135.49 62.15,136.90 62.70,138.33 63.25,139.41 63.80,140.48 64.35,141.53 64.90,142.84 65.45,144.21 66.00,145.04 66.55,146.29 67.10,147.35 67.65,148.58 68.20,149.51 68.75,149.70 69.30,150.01 69.85,150.52 70.40,151.00 70.95,151.55 71.50,152.96 72.05,154.31 72.60,155.39 73.15,156.97 73.70,158.32 74.25,159.69 74.80,160.97 75.35,162.02 75.90,162.98 76.45,163.79 77.00,164.59 77.55,165.46 78.10,166.17 78.65,166.90 79.20,167.64 79.75,168.33 80.30,168.89 80.85,169.62 81.40,170.30 81.95,170.86 82.50,171.56 83.05,172.27 83.60,173.01 84.15,173.75 84.70,174.52 85.25,175.34 85.80,176.11 86.35,176.85 86.90,177.58 87.45,178.39 88.00,179.12 88.55,179.81 89.10,180.57 89.65,181.33 90.20,182.06 90.75,182.77 91.30,183.50 91.85,184.24 92.40,184.89 92.95,185.46 93.50,186.02 94.05,186.62 94.60,187.17 95.15,187.75 95.70,188.31 96.25,188.88 96.80,189.43 97.35,190.00 97.90,190.60 98.45,191.14 99.00,191.70 99.55,192.28 100.10,192.85 100.65,193.40 101.20,193.98 101.75,194.53 102.30,195.10 102.85,195.66 103.40,196.22 103.95,196.81 104.50,197.37 105.05,197.93 105.60,198.49 106.15,199.01 106.70,199.49 107.25,199.96 107.80,200.44 108.35,200.90 108.90,201.38 109.45,201.85 110.00,202.31 110.55,202.78 111.10,203.25 111.65,203.72 112.20,204.20 112.75,204.67 113.30,205.05 113.85,205.39 114.40,205.72 114.95,206.06 115.50,206.40 116.05,206.73 116.60,207.07 117.15,207.41 117.70,207.66 118.25,207.88 118.80,208.09 119.35,208.32 119.90,208.53 120.45,208.75 121.00,208.97 121.55,209.19 122.10,209.41 122.65,209.62 123.20,209.85 123.75,210.07 124.30,210.28 124.85,210.50 125.40,210.73 125.95,210.97 126.50,211.22 127.05,211.46 127.60,211.70 128.15,211.94 128.70,212.18 129.25,212.42 129.80,212.66 130.35,212.90 130.90,213.14 131.45,213.38 132.00,213.63 132.55,213.87 133.10,214.11 133.65,214.34 134.20,214.58 134.75,214.82 135.30,215.06 135.85,215.30 136.40,215.54 136.95,215.78 137.50,216.02 138.05,216.26 138.60,216.50 139.15,216.74 139.70,216.98 140.25,217.14 140.80,217.29 141.35,217.44 141.90,217.58 142.45,217.74 143.00,217.88 143.55,218.03 144.10,218.18 144.65,218.33 145.20,218.48 145.75,218.63 146.30,218.78 146.85,218.93 147.40,219.05 147.95,219.14 148.50,219.23 149.05,219.32 149.60,219.41 150.15,219.49 150.70,219.58 151.25,219.67 151.80,219.76 152.35,219.85 152.90,219.94 153.45,220.03 154.00,220.12 154.55,220.21 155.10,220.29 155.65,220.37 156.20,220.45 156.75,220.53 157.30,220.62 157.85,220.70 158.40,220.78 158.95,220.86 159.50,220.94 160.05,221.03 160.60,221.11 161.15,221.19 161.70,221.27 162.25,221.33 162.80,221.37 163.35,221.42 163.90,221.46 164.45,221.51 165.00,221.55 165.55,221.60 166.10,221.65 166.65,221.69 167.20,221.74 167.75,221.78 168.30,221.83 168.85,221.87 169.40,221.92 169.95,221.97 170.50,222.02 171.05,222.07 171.60,222.12 172.15,222.17 172.70,222.22 173.25,222.27 173.80,222.33 174.35,222.38 174.90,222.43 175.45,222.48 176.00,222.53 176.55,222.58 177.10,222.63 177.65,222.68 178.20,222.73 178.75,222.78 179.30,222.84 179.85,222.89 180.40,222.92 180.95,222.95 181.50,222.98 182.05,223.01 182.60,223.04 183.15,223.07 183.70,223.10 184.25,223.13 184.80,223.16 185.35,223.19 185.90,223.21 186.45,223.24 187.00,223.27 187.55,223.30 188.10,223.33 188.65,223.36 189.20,223.39 189.75,223.42 190.30,223.45 190.85,223.48 191.40,223.51 191.95,223.54 192.50,223.57 193.05,223.60 193.60,223.63 194.15,223.65 194.70,223.68 195.25,223.71 195.80,223.73 196.35,223.75 196.90,223.78 197.45,223.80 198.00,223.82 198.55,223.84 199.10,223.86 199.65,223.89 200.20,223.91 200.75,223.93 201.30,223.95 201.85,223.97 202.40,224.00 202.95,224.02 203.50,224.04 204.05,224.06 204.60,224.08 205.15,224.11 205.70,224.13 206.25,224.15 206.80,224.17 207.35,224.19 207.90,224.22 208.45,224.24 209.00,224.26 209.55,224.28 210.10,224.30 210.65,224.31 211.20,224.31 211.75,224.32 212.30,224.32 212.85,224.33 213.40,224.33 213.95,224.34 214.50,224.35 215.05,224.35 215.60,224.36 216.15,224.36 216.70,224.37 217.25,224.37 217.80,224.38 218.35,224.38 218.90,224.39 219.45,224.39 220.00,224.40 220.55,224.41 221.10,224.41 221.65,224.42 222.20,224.42 222.75,224.43 223.30,224.43 223.85,224.44 224.40,224.44 224.95,224.45 225.50,224.45 226.05,224.46 226.60,224.47 227.15,224.47 227.70,224.48 228.25,224.48 228.80,224.49 229.35,224.49 229.90,224.50 230.45,224.50 231.00,224.50 231.55,224.50 232.10,224.50 232.65,224.50 233.20,224.50 233.75,224.50 234.30,224.50 234.85,224.50 235.40,224.50 235.95,224.50 236.50,224.50 237.05,224.50 237.60,224.50 238.15,224.50 238.70,224.50 239.25,224.50 239.80,224.50 240.35,224.50 240.90,224.50 241.45,224.50 242.00,224.50 242.55,224.50 243.10,224.50 243.65,224.50 244.20,224.50 244.75,224.50 245.30,224.50 245.85,224.50 246.40,224.50 246.95,224.50 247.50,224.50 248.05,224.50 248.60,224.50 249.15,224.50 249.70,224.50 250.25,224.50 250.80,224.50 251.35,224.50 251.90,224.50 252.45,224.50 253.00,224.50 253.55,224.50 254.10,224.50 254.65,224.50 255.20,224.50 255.75,224.50 256.30,224.50 256.85,224.50 257.40,224.50 257.95,224.50 258.50,224.50 259.05,224.50 259.60,224.50 260.15,224.50 260.70,224.50 261.25,224.50 261.80,224.50 262.35,224.50 262.90,224.50 263.45,224.50 264.00,224.50 264.55,224.50 265.10,224.50 265.65,224.50 266.20,224.50 266.75,224.50 267.30,224.50 267.85,224.50 268.40,224.50 268.95,224.50 269.50,224.50 270.05,224.50 270.60,224.50 271.15,224.50 271.70,224.50 272.25,224.50 272.80,224.50 273.35,224.50 273.90,224.50 274.45,224.50 275.00,224.50 275.55,224.50 276.10,224.50 276.65,224.50 277.20,224.50 277.75,224.50 278.30,224.50 278.85,224.50 279.40,224.50 279.95,224.50 280.50,224.50 281.05,224.50 281.60,224.50 282.15,224.50 282.70,224.50 283.25,224.50 283.80,224.50 284.35,224.50 284.90,224.50 285.45,224.50 286.00,224.50 286.55,224.50 287.10,224.50 287.65,224.50 288.20,224.50 288.75,224.50 289.30,224.50 289.85,224.50 290.40,224.50 290.95,224.50 291.50,224.50 292.05,224.50 292.60,224.50 293.15,224.50 293.70,224.50 294.25,224.50 294.80,224.50 295.35,224.50 295.90,224.50 296.45,224.50 297.00,224.50 297.55,224.50 298.10,224.50 298.65,224.50 299.20,224.50 299.75,224.50 300.30,224.50 300.85,224.50 301.40,224.50 301.95,224.50 302.50,224.50 303.05,224.50 303.60,224.50 304.15,224.50 304.70,224.50 305.25,224.50 305.80,224.50 306.35,224.50 306.90,224.50 307.45,224.50 308.00,224.50 308.55,224.50 309.10,224.50 309.65,224.50 310.20,224.50 310.75,224.50 311.30,224.50 311.85,224.50 312.40,224.50 312.95,224.50 313.50,224.50 314.05,224.50 314.60,224.50 315.15,224.50 315.70,224.50 316.25,224.50 316.80,224.50 317.35,224.50 317.90,224.50 318.45,224.50 319.00,224.50 319.55,224.50 320.10,224.50 320.65,224.50 321.20,224.50 321.75,224.50 322.30,224.50 322.85,224.50 323.40,224.50 323.95,224.50 324.50,224.50 325.05,224.50 325.60,224.50 326.15,224.50 326.70,224.50 327.25,224.50 327.80,224.50 328.35,224.50 328.90,224.50 329.45,224.50 330.00,224.50 330.55,224.50 331.10,224.50 331.65,224.50 332.20,224.50 332.75,224.50 333.30,224.50 333.85,224.50 334.40,224.50 334.95,224.50 335.50,224.50 336.05,224.50 336.60,224.50 337.15,224.50 337.70,224.50 338.25,224.50 338.80,224.50 339.35,224.50 339.90,224.50 340.45,224.50" fill="none" stroke="#e6003c" stroke-width="1.5" stroke-linejoin="round"/>
<polygon points="42.20,206.64 42.75,206.99 43.30,207.55 43.85,208.01 44.40,208.49 44.95,209.42 45.50,209.98 46.05,208.47 46.60,206.87 47.15,207.48 47.70,207.39 48.25,208.21 48.80,208.70 49.35,209.43 49.90,210.57 50.45,210.79 51.00,210.61 51.55,211.50 52.10,211.09 52.65,211.47 53.20,211.56 53.75,211.95 54.30,211.83 54.85,211.19 55.40,211.50 55.95,211.54 56.50,210.88 57.05,210.75 57.60,210.60 58.15,211.04 58.70,210.31 59.25,210.76 59.80,210.98 60.35,211.30 60.90,211.19 61.45,211.78 62.00,211.93 62.55,212.45 63.10,212.78 63.65,212.80 64.20,213.21 64.75,213.33 65.30,213.98 65.85,213.82 66.40,214.26 66.95,214.48 67.50,214.28 68.05,214.70 68.60,214.72 69.15,214.98 69.70,214.63 70.25,215.20 70.80,215.21 71.35,215.27 71.90,215.58 72.45,215.76 73.00,216.00 73.55,215.98 74.10,216.07 74.65,216.01 75.20,215.96 75.75,216.26 76.30,216.24 76.85,216.42 77.40,216.36 77.95,217.10 78.50,217.18 79.05,217.23 79.60,217.29 80.15,217.47 80.70,217.74 81.25,217.18 81.80,217.69 82.35,217.47 82.90,217.55 83.45,218.09 84.00,218.06 84.55,218.14 85.10,217.91 85.65,218.27 86.20,218.38 86.75,218.55 87.30,218.52 87.85,218.91 88.40,218.92 88.95,219.14 89.50,218.94 90.05,219.26 90.60,219.16 91.15,219.24 91.70,219.52 92.25,219.69 92.80,219.72 93.35,219.57 93.90,219.78 94.45,219.88 95.00,220.06 95.55,220.22 96.10,220.23 96.65,220.38 97.20,220.25 97.75,220.52 98.30,220.63 98.85,220.69 99.40,220.68 99.95,220.76 100.50,220.81 101.05,220.90 101.60,220.97 102.15,221.02 102.70,221.12 103.25,221.31 103.80,221.20 104.35,221.30 104.90,221.36 105.45,221.51 106.00,221.42 106.55,221.54 107.10,221.67 107.65,221.76 108.20,221.79 108.75,221.81 109.30,221.90 109.85,221.93 110.40,221.94 110.95,222.03 111.50,222.07 112.05,222.05 112.60,222.18 113.15,222.20 113.70,222.22 114.25,222.24 114.80,222.31 115.35,222.41 115.90,222.43 116.45,222.48 117.00,222.57 117.55,222.57 118.10,222.64 118.65,222.68 119.20,222.68 119.75,222.64 120.30,222.77 120.85,222.72 121.40,222.73 121.95,222.76 122.50,222.78 123.05,222.88 123.60,222.84 124.15,222.96 124.70,222.89 125.25,222.94 125.80,223.00 126.35,223.05 126.90,223.06 127.45,223.01 128.00,223.12 128.55,223.09 129.10,223.17 129.65,223.12 130.20,223.20 130.75,223.18 131.30,223.25 131.85,223.19 132.40,223.22 132.95,223.23 133.50,223.32 134.05,223.28 134.60,223.36 135.15,223.36 135.70,223.41 136.25,223.39 136.80,223.43 137.35,223.49 137.90,223.49 138.45,223.48 139.00,223.50 139.55,223.51 140.10,223.51 140.65,223.51 141.20,223.59 141.75,223.59 142.30,223.60 142.85,223.64 143.40,223.63 143.95,223.66 144.50,223.64 145.05,223.62 145.60,223.67 146.15,223.68 146.70,223.69 147.25,223.66 147.80,223.64 148.35,223.71 148.90,223.69 149.45,223.71 150.00,223.70 150.55,223.68 151.10,223.69 151.65,223.78 152.20,223.79 152.75,223.78 153.30,223.73 153.85,223.79 154.40,223.76 154.95,223.78 155.50,223.84 156.05,223.80 156.60,223.80 157.15,223.79 157.70,223.88 158.25,223.85 158.80,223.84 159.35,223.89 159.90,223.88 160.45,223.93 161.00,223.89 161.55,223.89 162.10,223.96 162.65,223.91 163.20,223.92 163.75,223.90 164.30,223.98 164.85,223.92 165.40,223.98 165.95,223.95 166.50,223.97 167.05,223.99 167.60,224.04 168.15,224.04 168.70,224.07 169.25,224.05 169.80,224.08 170.35,224.01 170.90,224.07 171.45,224.07 172.00,224.07 172.55,224.06 173.10,224.09 173.65,224.06 174.20,224.08 174.75,224.08 175.30,224.13 175.85,224.13 176.40,224.08 176.95,224.09 177.50,224.12 178.05,224.17 178.60,224.12 179.15,224.18 179.70,224.18 180.25,224.20 180.80,224.18 181.35,224.12 181.90,224.20 182.45,224.13 183.00,224.19 183.55,224.20 184.10,224.19 184.65,224.24 185.20,224.23 185.75,224.20 186.30,224.23 186.85,224.20 187.40,224.22 187.95,224.19 188.50,224.28 189.05,224.22 189.60,224.23 190.15,224.22 190.70,224.29 191.25,224.29 191.80,224.24 192.35,224.30 192.90,224.26 193.45,224.32 194.00,224.28 194.55,224.28 195.10,224.32 195.65,224.30 196.20,224.35 196.75,224.34 197.30,224.31 197.85,224.32 198.40,224.36 198.95,224.32 199.50,224.38 200.05,224.33 200.60,224.33 201.15,224.32 201.70,224.37 202.25,224.39 202.80,224.39 203.35,224.35 203.90,224.31 204.45,224.35 205.00,224.38 205.55,224.35 206.10,224.33 206.65,224.33 207.20,224.39 207.75,224.35 208.30,224.33 208.85,224.37 209.40,224.33 209.95,224.36 210.50,224.31 211.05,224.34 211.60,224.35 212.15,224.37 212.70,224.31 213.25,224.38 213.80,224.34 214.35,224.39 214.90,224.33 215.45,224.39 216.00,224.39 216.55,224.39 217.10,224.33 217.65,224.39 218.20,224.38 218.75,224.32 219.30,224.38 219.85,224.36 220.40,224.38 220.95,224.31 221.50,224.37 222.05,224.31 222.60,224.35 223.15,224.34 223.70,224.35 224.25,224.33 224.80,224.38 225.35,224.39 225.90,224.36 226.45,224.37 227.00,224.31 227.55,224.32 228.10,224.38 228.65,224.36 229.20,224.36 229.75,224.32 230.30,224.39 230.85,224.34 231.40,224.31 231.95,224.32 232.50,224.37 233.05,224.36 233.60,224.36 234.15,224.37 234.70,224.36 235.25,224.32 235.80,224.37 236.35,224.32 236.90,224.33 237.45,224.32 238.00,224.34 238.55,224.32 239.10,224.35 239.65,224.32 240.20,224.32 240.75,224.32 241.30,224.31 241.85,224.33 242.40,224.39 242.95,224.35 243.50,224.36 244.05,224.32 244.60,224.38 245.15,224.37 245.70,224.37 246.25,224.32 246.80,224.39 247.35,224.33 247.90,224.35 248.45,224.32 249.00,224.37 249.55,224.31 250.10,224.31 250.65,224.37 251.20,224.34 251.75,224.34 252.30,224.35 252.85,224.36 253.40,224.34 253.95,224.36 254.50,224.31 255.05,224.38 255.60,224.39 256.15,224.36 256.70,224.36 257.25,224.35 257.80,224.32 258.35,224.37 258.90,224.32 259.45,224.32 260.00,224.36 260.55,224.33 261.10,224.38 261.65,224.37 262.20,224.38 262.75,224.35 263.30,224.38 263.85,224.31 264.40,224.32 264.95,224.31 265.50,224.33 266.05,224.36 266.60,224.38 267.15,224.35 267.70,224.31 268.25,224.35 268.80,224.34 269.35,224.34 269.90,224.36 270.45,224.37 271.00,224.36 271.55,224.35 272.10,224.39 272.65,224.33 273.20,224.37 273.75,224.35 274.30,224.34 274.85,224.38 275.40,224.33 275.95,224.33 276.50,224.37 277.05,224.31 277.60,224.31 278.15,224.39 278.70,224.32 279.25,224.38 279.80,224.34 280.35,224.36 280.90,224.37 281.45,224.38 282.00,224.34 282.55,224.38 283.10,224.39 283.65,224.37 284.20,224.38 284.75,224.36 285.30,224.35 285.85,224.35 286.40,224.34 286.95,224.38 287.50,224.33 288.05,224.36 288.60,224.36 289.15,224.33 289.70,224.38 290.25,224.34 290.80,224.32 291.35,224.36 291.90,224.31 292.45,224.36 293.00,224.35 293.55,224.33 294.10,224.38 294.65,224.32 295.20,224.34 295.75,224.36 296.30,224.35 296.85,224.38 297.40,224.31 297.95,224.39 298.50,224.35 299.05,224.36 299.60,224.36 300.15,224.31 300.70,224.35 301.25,224.36 301.80,224.32 302.35,224.36 302.90,224.36 303.45,224.35 304.00,224.37 304.55,224.38 305.10,224.39 305.65,224.39 306.20,224.38 306.75,224.39 307.30,224.33 307.85,224.31 308.40,224.35 308.95,224.39 309.50,224.36 310.05,224.33 310.60,224.36 311.15,224.32 311.70,224.34 312.25,224.39 312.80,224.38 313.35,224.33 313.90,224.38 314.45,224.38 315.00,224.33 315.55,224.36 316.10,224.36 316.65,224.37 317.20,224.31 317.75,224.33 318.30,224.38 318.85,224.36 319.40,224.39 319.95,224.33 320.50,224.36 321.05,224.34 321.60,224.32 322.15,224.36 322.70,224.31 323.25,224.31 323.80,224.38 324.35,224.36 324.90,224.39 325.45,224.32 326.00,224.39 326.55,224.36 327.10,224.34 327.65,224.36 328.20,224.31 328.75,224.34 329.30,224.36 329.85,224.31 330.40,224.32 330.95,224.31 331.50,224.37 332.05,224.37 332.60,224.38 333.15,224.35 333.70,224.31 334.25,224.31 334.80,224.38 335.35,224.34 335.90,224.34 336.45,224.31 337.00,224.33 337.55,224.37 338.10,224.32 338.65,224.33 339.20,224.33 339.75,224.39 340.30,224.33 340.85,224.34 340.85,224.63 340.30,224.62 339.75,224.65 339.20,224.66 338.65,224.63 338.10,224.64 337.55,224.62 337.00,224.61 336.45,224.61 335.90,224.64 335.35,224.69 334.80,224.67 334.25,224.67 333.70,224.61 333.15,224.63 332.60,224.68 332.05,224.66 331.50,224.67 330.95,224.67 330.40,224.68 329.85,224.68 329.30,224.63 328.75,224.63 328.20,224.69 327.65,224.69 327.10,224.67 326.55,224.67 326.00,224.68 325.45,224.65 324.90,224.68 324.35,224.67 323.80,224.62 323.25,224.66 322.70,224.68 322.15,224.64 321.60,224.66 321.05,224.65 320.50,224.68 319.95,224.61 319.40,224.65 318.85,224.67 318.30,224.62 317.75,224.62 317.20,224.69 316.65,224.63 316.10,224.64 315.55,224.69 315.00,224.69 314.45,224.66 313.90,224.62 313.35,224.66 312.80,224.61 312.25,224.61 311.70,224.69 311.15,224.67 310.60,224.61 310.05,224.68 309.50,224.62 308.95,224.69 308.40,224.69 307.85,224.69 307.30,224.67 306.75,224.63 306.20,224.63 305.65,224.68 305.10,224.62 304.55,224.67 304.00,224.68 303.45,224.63 302.90,224.69 302.35,224.64 301.80,224.63 301.25,224.66 300.70,224.63 300.15,224.66 299.60,224.65 299.05,224.69 298.50,224.65 297.95,224.63 297.40,224.68 296.85,224.62 296.30,224.64 295.75,224.69 295.20,224.67 294.65,224.68 294.10,224.64 293.55,224.69 293.00,224.66 292.45,224.63 291.90,224.64 291.35,224.66 290.80,224.67 290.25,224.61 289.70,224.68 289.15,224.64 288.60,224.64 288.05,224.64 287.50,224.69 286.95,224.61 286.40,224.62 285.85,224.62 285.30,224.69 284.75,224.69 284.20,224.65 283.65,224.65 283.10,224.62 282.55,224.62 282.00,224.63 281.45,224.64 280.90,224.62 280.35,224.67 279.80,224.69 279.25,224.65 278.70,224.67 278.15,224.61 277.60,224.64 277.05,224.61 276.50,224.68 275.95,224.67 275.40,224.67 274.85,224.66 274.30,224.69 273.75,224.62 273.20,224.63 272.65,224.67 272.10,224.64 271.55,224.61 271.00,224.65 270.45,224.63 269.90,224.66 269.35,224.68 268.80,224.62 268.25,224.69 267.70,224.69 267.15,224.69 266.60,224.61 266.05,224.69 265.50,224.68 264.95,224.65 264.40,224.62 263.85,224.66 263.30,224.69 262.75,224.67 262.20,224.65 261.65,224.67 261.10,224.63 260.55,224.69 260.00,224.64 259.45,224.69 258.90,224.62 258.35,224.67 257.80,224.64 257.25,224.68 256.70,224.61 256.15,224.67 255.60,224.66 255.05,224.69 254.50,224.67 253.95,224.64 253.40,224.62 252.85,224.68 252.30,224.65 251.75,224.68 251.20,224.61 250.65,224.68 250.10,224.67 249.55,224.65 249.00,224.66 248.45,224.69 247.90,224.64 247.35,224.62 246.80,224.61 246.25,224.63 245.70,224.61 245.15,224.61 244.60,224.64 244.05,224.68 243.50,224.68 242.95,224.65 242.40,224.68 241.85,224.66 241.30,224.67 240.75,224.62 240.20,224.68 239.65,224.64 239.10,224.64 238.55,224.62 238.00,224.64 237.45,224.63 236.90,224.67 236.35,224.69 235.80,224.69 235.25,224.67 234.70,224.66 234.15,224.69 233.60,224.61 233.05,224.64 232.50,224.64 231.95,224.68 231.40,224.63 230.85,224.69 230.30,224.67 229.75,224.66 229.20,224.68 228.65,224.62 228.10,224.67 227.55,224.63 227.00,224.62 226.45,224.65 225.90,224.63 225.35,224.68 224.80,224.69 224.25,224.62 223.70,224.67 223.15,224.63 222.60,224.69 222.05,224.69 221.50,224.67 220.95,224.62 220.40,224.63 219.85,224.64 219.30,224.67 218.75,224.62 218.20,224.65 217.65,224.61 217.10,224.62 216.55,224.63 216.00,224.69 215.45,224.64 214.90,224.64 214.35,224.67 213.80,224.63 213.25,224.65 212.70,224.69 212.15,224.61 211.60,224.66 211.05,224.61 210.50,224.69 209.95,224.65 209.40,224.67 208.85,224.65 208.30,224.62 207.75,224.63 207.20,224.64 206.65,224.61 206.10,224.65 205.55,224.64 205.00,224.65 204.45,224.62 203.90,224.68 203.35,224.62 202.80,224.61 202.25,224.66 201.70,224.67 201.15,224.63 200.60,224.69 200.05,224.68 199.50,224.62 198.95,224.62 198.40,224.62 197.85,224.66 197.30,224.64 196.75,224.60 196.20,224.63 195.65,224.63 195.10,224.59 194.55,224.57 194.00,224.55 193.45,224.56 192.90,224.58 192.35,224.54 191.80,224.59 191.25,224.58 190.70,224.56 190.15,224.58 189.60,224.52 189.05,224.53 188.50,224.50 187.95,224.54 187.40,224.50 186.85,224.50 186.30,224.54 185.75,224.53 185.20,224.47 184.65,224.46 184.10,224.47 183.55,224.48 183.00,224.48 182.45,224.44 181.90,224.51 181.35,224.42 180.80,224.48 180.25,224.43 179.70,224.46 179.15,224.40 178.60,224.42 178.05,224.43 177.50,224.40 176.95,224.45 176.40,224.42 175.85,224.39 175.30,224.43 174.75,224.44 174.20,224.40 173.65,224.42 173.10,224.42 172.55,224.35 172.00,224.33 171.45,224.34 170.90,224.38 170.35,224.36 169.80,224.35 169.25,224.33 168.70,224.30 168.15,224.30 167.60,224.29 167.05,224.33 166.50,224.28 165.95,224.26 165.40,224.32 164.85,224.24 164.30,224.25 163.75,224.27 163.20,224.21 162.65,224.25 162.10,224.22 161.55,224.24 161.00,224.20 160.45,224.21 159.90,224.20 159.35,224.16 158.80,224.14 158.25,224.13 157.70,224.18 157.15,224.11 156.60,224.17 156.05,224.13 155.50,224.09 154.95,224.10 154.40,224.12 153.85,224.09 153.30,224.11 152.75,224.05 152.20,224.01 151.65,224.09 151.10,224.03 150.55,224.01 150.00,224.05 149.45,224.05 148.90,224.00 148.35,223.96 147.80,223.94 147.25,223.98 146.70,223.93 146.15,224.00 145.60,223.92 145.05,223.96 144.50,223.93 143.95,223.93 143.40,223.94 142.85,223.89 142.30,223.91 141.75,223.88 141.20,223.92 140.65,223.86 140.10,223.83 139.55,223.81 139.00,223.87 138.45,223.84 137.90,223.78 137.35,223.81 136.80,223.76 136.25,223.76 135.70,223.73 135.15,223.65 134.60,223.62 134.05,223.60 133.50,223.63 132.95,223.57 132.40,223.57 131.85,223.59 131.30,223.57 130.75,223.54 130.20,223.51 129.65,223.49 129.10,223.46 128.55,223.45 128.00,223.38 127.45,223.41 126.90,223.35 126.35,223.39 125.80,223.32 125.25,223.27 124.70,223.29 124.15,223.25 123.60,223.22 123.05,223.19 122.50,223.20 121.95,223.13 121.40,223.20 120.85,223.13 120.30,223.07 119.75,223.09 119.20,223.05 118.65,222.98 118.10,223.00 117.55,222.93 117.00,222.88 116.45,222.92 115.90,222.80 115.35,222.75 114.80,222.81 114.25,222.66 113.70,222.68 113.15,222.62 112.60,222.56 112.05,222.52 111.50,222.50 110.95,222.52 110.40,222.38 109.85,222.37 109.30,222.40 108.75,222.34 108.20,222.34 107.65,222.27 107.10,222.10 106.55,222.14 106.00,222.06 105.45,221.96 104.90,221.93 104.35,221.96 103.80,221.84 103.25,221.80 102.70,221.77 102.15,221.84 101.60,221.67 101.05,221.59 100.50,221.60 99.95,221.48 99.40,221.49 98.85,221.42 98.30,221.27 97.75,221.38 97.20,221.29 96.65,221.18 96.10,221.01 95.55,220.91 95.00,220.86 94.45,220.99 93.90,220.92 93.35,220.85 92.80,220.67 92.25,220.76 91.70,220.55 91.15,220.67 90.60,220.60 90.05,220.44 89.50,220.62 88.95,220.26 88.40,220.50 87.85,220.13 87.30,220.44 86.75,220.38 86.20,220.36 85.65,220.17 85.10,219.85 84.55,220.03 84.00,220.04 83.45,220.14 82.90,219.95 82.35,220.20 81.80,220.12 81.25,220.24 80.70,219.73 80.15,219.87 79.60,219.79 79.05,220.23 78.50,220.00 77.95,219.85 77.40,219.64 76.85,219.48 76.30,219.40 75.75,219.61 75.20,219.71 74.65,219.60 74.10,219.51 73.55,218.87 73.00,219.36 72.45,219.26 71.90,219.27 71.35,218.97 70.80,218.77 70.25,218.78 69.70,218.35 69.15,218.18 68.60,218.77 68.05,218.10 67.50,218.11 66.95,217.88 66.40,218.31 65.85,217.67 65.30,217.82 64.75,217.35 64.20,217.25 63.65,217.03 63.10,217.35 62.55,216.63 62.00,216.46 61.45,216.42 60.90,216.01 60.35,216.29 59.80,215.93 59.25,215.83 58.70,215.78 58.15,215.88 57.60,215.84 57.05,215.70 56.50,215.96 55.95,215.96 55.40,215.66 54.85,215.73 54.30,216.03 53.75,216.42 53.20,216.57 52.65,216.77 52.10,216.09 51.55,216.57 51.00,216.02 50.45,216.41 49.90,216.44 49.35,216.19 48.80,216.66 48.25,216.07 47.70,216.72 47.15,216.47 46.60,217.67 46.05,219.18 45.50,220.43 44.95,220.00 44.40,219.83 43.85,220.07 43.30,219.71 42.75,219.16 42.20,219.16" fill="#0000ff" fill-opacity="0.45"/>
<polyline points="42.20,213.83 42.75,215.03 43.30,214.91 43.85,215.19 44.40,214.68 44.95,215.17 45.50,214.21 46.05,213.70 46.60,212.62 47.15,211.10 47.70,213.05 48.25,212.13 48.80,212.87 49.35,213.38 49.90,213.04 50.45,213.71 51.00,213.67 51.55,213.41 52.10,213.71 52.65,213.88 53.20,213.86 53.75,214.24 54.30,214.03 54.85,214.44 55.40,213.99 55.95,213.66 56.50,213.64 57.05,213.23 57.60,213.33 58.15,213.32 58.70,213.16 59.25,213.21 59.80,213.27 60.35,213.62 60.90,213.74 61.45,214.16 62.00,214.31 62.55,214.69 63.10,214.92 63.65,215.20 64.20,215.48 64.75,215.53 65.30,215.68 65.85,215.96 66.40,216.00 66.95,216.23 67.50,216.37 68.05,216.46 68.60,216.57 69.15,216.71 69.70,216.94 70.25,216.95 70.80,217.09 71.35,217.19 71.90,217.25 72.45,217.38 73.00,217.45 73.55,217.57 74.10,217.67 74.65,217.75 75.20,217.84 75.75,217.95 76.30,218.03 76.85,218.12 77.40,218.23 77.95,218.35 78.50,218.43 79.05,218.53 79.60,218.54 80.15,218.62 80.70,218.65 81.25,218.71 81.80,218.75 82.35,218.80 82.90,218.83 83.45,218.89 84.00,218.95 84.55,219.03 85.10,219.10 85.65,219.18 86.20,219.26 86.75,219.34 87.30,219.42 87.85,219.49 88.40,219.57 88.95,219.64 89.50,219.72 90.05,219.80 90.60,219.88 91.15,219.95 91.70,220.03 92.25,220.11 92.80,220.19 93.35,220.26 93.90,220.34 94.45,220.42 95.00,220.50 95.55,220.57 96.10,220.65 96.65,220.73 97.20,220.81 97.75,220.88 98.30,220.96 98.85,221.04 99.40,221.12 99.95,221.19 100.50,221.27 101.05,221.33 101.60,221.38 102.15,221.43 102.70,221.49 103.25,221.54 103.80,221.59 104.35,221.64 104.90,221.69 105.45,221.74 106.00,221.79 106.55,221.85 107.10,221.90 107.65,221.95 108.20,222.00 108.75,222.05 109.30,222.10 109.85,222.15 110.40,222.19 110.95,222.23 111.50,222.28 112.05,222.32 112.60,222.37 113.15,222.41 113.70,222.46 114.25,222.50 114.80,222.55 115.35,222.59 115.90,222.64 116.45,222.68 117.00,222.73 117.55,222.77 118.10,222.81 118.65,222.84 119.20,222.86 119.75,222.89 120.30,222.91 120.85,222.94 121.40,222.96 121.95,222.99 122.50,223.01 123.05,223.04 123.60,223.07 124.15,223.09 124.70,223.12 125.25,223.14 125.80,223.17 126.35,223.19 126.90,223.21 127.45,223.24 128.00,223.26 128.55,223.28 129.10,223.30 129.65,223.32 130.20,223.34 130.75,223.36 131.30,223.38 131.85,223.40 132.40,223.42 132.95,223.44 133.50,223.46 134.05,223.48 134.60,223.50 135.15,223.52 135.70,223.54 136.25,223.56 136.80,223.58 137.35,223.60 137.90,223.62 138.45,223.64 139.00,223.66 139.55,223.68 140.10,223.70 140.65,223.71 141.20,223.72 141.75,223.73 142.30,223.74 142.85,223.75 143.40,223.76 143.95,223.77 144.50,223.77 145.05,223.78 145.60,223.79 146.15,223.80 146.70,223.81 147.25,223.82 147.80,223.83 148.35,223.84 148.90,223.85 149.45,223.86 150.00,223.87 150.55,223.88 151.10,223.88 151.65,223.89 152.20,223.90 152.75,223.91 153.30,223.92 153.85,223.93 154.40,223.94 154.95,223.95 155.50,223.96 156.05,223.97 156.60,223.98 157.15,223.99 157.70,223.99 158.25,224.00 158.80,224.01 159.35,224.02 159.90,224.03 160.45,224.04 161.00,224.05 161.55,224.06 162.10,224.07 162.65,224.08 163.20,224.09 163.75,224.10 164.30,224.10 164.85,224.11 165.40,224.12 165.95,224.13 166.50,224.14 167.05,224.15 167.60,224.16 168.15,224.17 168.70,224.18 169.25,224.19 169.80,224.20 170.35,224.20 170.90,224.21 171.45,224.21 172.00,224.22 172.55,224.23 173.10,224.23 173.65,224.24 174.20,224.24 174.75,224.25 175.30,224.25 175.85,224.26 176.40,224.26 176.95,224.27 177.50,224.27 178.05,224.28 178.60,224.29 179.15,224.29 179.70,224.30 180.25,224.30 180.80,224.31 181.35,224.31 181.90,224.32 182.45,224.32 183.00,224.33 183.55,224.34 184.10,224.34 184.65,224.35 185.20,224.35 185.75,224.36 186.30,224.36 186.85,224.37 187.40,224.37 187.95,224.38 188.50,224.38 189.05,224.39 189.60,224.40 190.15,224.40 190.70,224.41 191.25,224.41 191.80,224.42 192.35,224.42 192.90,224.43 193.45,224.43 194.00,224.44 194.55,224.45 195.10,224.45 195.65,224.46 196.20,224.46 196.75,224.47 197.30,224.47 197.85,224.48 198.40,224.48 198.95,224.49 199.50,224.50 200.05,224.50 200.60,224.50 201.15,224.50 201.70,224.50 202.25,224.50 202.80,224.50 203.35,224.50 203.90,224.50 204.45,224.50 205.00,224.50 205.55,224.50 206.10,224.50 206.65,224.50 207.20,224.50 207.75,224.50 208.30,224.50 208.85,224.50 209.40,224.50 209.95,224.50 210.50,224.50 211.05,224.50 211.60,224.50 212.15,224.50 212.70,224.50 213.25,224.50 213.80,224.50 214.35,224.50 214.90,224.50 215.45,224.50 216.00,224.50 216.55,224.50 217.10,224.50 217.65,224.50 218.20,224.50 218.75,224.50 219.30,224.50 219.85,224.50 220.40,224.50 220.95,224.50 221.50,224.50 222.05,224.50 222.60,224.50 223.15,224.50 223.70,224.50 224.25,224.50 224.80,224.50 225.35,224.50 225.90,224.50 226.45,224.50 227.00,224.50 227.55,224.50 228.10,224.50 228.65,224.50 229.20,224.50 229.75,224.50 230.30,224.50 230.85,224.50 231.40,224.50 231.95,224.50 232.50,224.50 233.05,224.50 233.60,224.50 234.15,224.50 234.70,224.50 235.25,224.50 235.80,224.50 236.35,224.50 236.90,224.50 237.45,224.50 238.00,224.50 238.55,224.50 239.10,224.50 239.65,224.50 240.20,224.50 240.75,224.50 241.30,224.50 241.85,224.50 242.40,224.50 242.95,224.50 243.50,224.50 244.05,224.50 244.60,224.50 245.15,224.50 245.70,224.50 246.25,224.50 246.80,224.50 247.35,224.50 247.90,224.50 248.45,224.50 249.00,224.50 249.55,224.50 250.10,224.50 250.65,224.50 251.20,224.50 251.75,224.50 252.30,224.50 252.85,224.50 253.40,224.50 253.95,224.50 254.50,224.50 255.05,224.50 255.60,224.50 256.15,224.50 256.70,224.50 257.25,224.50 257.80,224.50 258.35,224.50 258.90,224.50 259.45,224.50 260.00,224.50 260.55,224.50 261.10,224.50 261.65,224.50 262.20,224.50 262.75,224.50 263.30,224.50 263.85,224.50 264.40,224.50 264.95,224.50 265.50,224.50 266.05,224.50 266.60,224.50 267.15,224.50 267.70,224.50 268.25,224.50 268.80,224.50 269.35,224.50 269.90,224.50 270.45,224.50 271.00,224.50 271.55,224.50 272.10,224.50 272.65,224.50 273.20,224.50 273.75,224.50 274.30,224.50 274.85,224.50 275.40,224.50 275.95,224.50 276.50,224.50 277.05,224.50 277.60,224.50 278.15,224.50 278.70,224.50 279.25,224.50 279.80,224.50 280.35,224.50 280.90,224.50 281.45,224.50 282.00,224.50 282.55,224.50 283.10,224.50 283.65,224.50 284.20,224.50 284.75,224.50 285.30,224.50 285.85,224.50 286.40,224.50 286.95,224.50 287.50,224.50 288.05,224.50 288.60,224.50 289.15,224.50 289.70,224.50 290.25,224.50 290.80,224.50 291.35,224.50 291.90,224.50 292.45,224.50 293.00,224.50 293.55,224.50 294.10,224.50 294.65,224.50 295.20,224.50 295.75,224.50 296.30,224.50 296.85,224.50 297.40,224.50 297.95,224.50 298.50,224.50 299.05,224.50 299.60,224.50 300.15,224.50 300.70,224.50 301.25,224.50 301.80,224.50 302.35,224.50 302.90,224.50 303.45,224.50 304.00,224.50 304.55,224.50 305.10,224.50 305.65,224.50 306.20,224.50 306.75,224.50 307.30,224.50 307.85,224.50 308.40,224.50 308.95,224.50 309.50,224.50 310.05,224.50 310.60,224.50 311.15,224.50 311.70,224.50 312.25,224.50 312.80,224.50 313.35,224.50 313.90,224.50 314.45,224.50 315.00,224.50 315.55,224.50 316.10,224.50 316.65,224.50 317.20,224.50 317.75,224.50 318.30,224.50 318.85,224.50 319.40,224.50 319.95,224.50 320.50,224.50 321.05,224.50 321.60,224.50 322.15,224.50 322.70,224.50 323.25,224.50 323.80,224.50 324.35,224.50 324.90,224.50 325.45,224.50 326.00,224.50 326.55,224.50 327.10,224.50 327.65,224.50 328.20,224.50 328.75,224.50 329.30,224.50 329.85,224.50 330.40,224.50 330.95,224.50 331.50,224.50 332.05,224.50 332.60,224.50 333.15,224.50 333.70,224.50 334.25,224.50 334.80,224.50 335.35,224.50 335.90,224.50 336.45,224.50 337.00,224.50 337.55,224.50 338.10,224.50 338.65,224.50 339.20,224.50 339.75,224.50 340.30,224.50 340.85,224.50" fill="none" stroke="#00008b" stroke-width="1.5" stroke-linejoin="round"/>
<polyline points="42.50,14.00 42.90,44.00 43.30,16.00 43.70,40.00 44.30,30.00 44.80,42.00 45.30,24.00 45.80,20.50 46.30,22.00 46.70,33.00 47.20,28.00 47.60,36.00 48.00,31.00 48.40,39.00 48.80,34.00 49.20,41.00 49.60,36.00 50.00,43.00 50.05,45.00 50.10,43.00 50.50,38.00 51.00,45.00 51.50,41.00 52.00,47.00 52.50,43.00 53.00,49.00 53.50,46.00 54.00,52.00 54.05,58.00 54.10,52.00 54.50,50.00 55.20,57.50 55.70,54.00 56.20,60.00 56.70,58.00 57.20,63.00 57.70,60.50 58.20,66.00 58.70,64.00 59.20,69.00 59.70,67.50 60.20,71.50 60.70,69.50 61.20,73.50 61.80,72.50 62.30,76.00 62.80,76.80 63.35,77.65 63.90,81.30 64.45,80.64 65.00,84.14 65.55,85.11 66.10,86.24 66.65,88.97 67.20,89.44 67.75,91.90 68.30,92.54 68.85,94.11 69.40,96.52 69.95,99.13 70.50,99.10 71.05,101.23 71.60,104.09 72.15,106.21 72.70,107.66 73.25,109.33 73.80,111.80 74.35,112.74 74.90,115.39 75.45,116.74 76.00,118.49 76.55,120.32 77.10,122.01 77.65,123.92 78.20,124.97 78.75,126.78 79.30,128.34 79.85,129.69 80.40,131.32 80.95,132.56 81.50,134.06 82.05,135.61 82.60,137.32 83.15,138.67 83.70,140.08 84.25,141.65 84.80,142.84 85.35,144.02 85.90,145.46 86.45,146.67 87.00,147.75 87.55,149.11 88.10,150.34 88.65,151.69 89.20,152.89 89.75,153.95 90.30,155.24 90.85,156.13 91.40,157.31 91.95,158.50 92.50,159.47 93.05,160.65 93.60,161.67 94.15,162.90 94.70,164.03 95.25,165.10 95.80,166.26 96.35,167.14 96.90,168.09 97.45,168.96 98.00,169.85 98.55,170.86 99.10,171.97 99.65,173.03 100.20,174.04 100.75,175.11 101.30,176.11 101.85,177.23 102.40,178.28 102.95,179.37 103.50,180.31 104.05,181.03 104.60,181.80 105.15,182.59 105.70,183.31 106.25,184.11 106.80,184.86 107.35,185.62 107.90,186.38 108.45,187.19 109.00,187.92 109.55,188.65 110.10,189.27 110.65,189.91 111.20,190.49 111.75,191.12 112.30,191.73 112.85,192.36 113.40,192.97 113.95,193.58 114.50,194.17 115.05,194.79 115.60,195.40 116.15,196.03 116.70,196.64 117.25,197.23 117.80,197.57 118.35,197.87 118.90,198.18 119.45,198.48 120.00,198.79 120.55,199.09 121.10,199.38 121.65,199.70 122.20,200.00 122.75,200.31 123.30,200.62 123.85,200.91 124.40,201.21 124.95,201.52 125.50,201.81 126.05,202.08 126.60,202.37 127.15,202.64 127.70,202.92 128.25,203.20 128.80,203.48 129.35,203.76 129.90,204.03 130.45,204.32 131.00,204.59 131.55,204.89 132.10,205.22 132.65,205.55 133.20,205.89 133.75,206.22 134.30,206.55 134.85,206.93 135.40,207.41 135.95,207.89 136.50,208.37 137.05,208.85 137.60,209.33 138.15,209.80 138.70,210.28 139.25,210.76 139.80,211.23 140.35,211.52 140.90,211.81 141.45,212.10 142.00,212.39 142.55,212.69 143.10,212.98 143.65,213.27 144.20,213.56 144.75,213.85 145.30,214.15 145.85,214.44 146.40,214.73 146.95,215.02 147.50,215.20 148.05,215.34 148.60,215.49 149.15,215.63 149.70,215.77 150.25,215.91 150.80,216.05 151.35,216.19 151.90,216.33 152.45,216.47 153.00,216.61 153.55,216.76 154.10,216.90 154.65,217.04 155.20,217.21 155.75,217.37 156.30,217.54 156.85,217.70 157.40,217.86 157.95,218.03 158.50,218.19 159.05,218.35 159.60,218.52 160.15,218.68 160.70,218.84 161.25,219.01 161.80,219.17 162.35,219.29 162.90,219.41 163.45,219.52 164.00,219.63 164.55,219.74 165.10,219.86 165.65,219.97 166.20,220.08 166.75,220.20 167.30,220.31 167.85,220.42 168.40,220.54 168.95,220.65 169.50,220.75 170.05,220.83 170.60,220.92 171.15,221.00 171.70,221.09 172.25,221.17 172.80,221.26 173.35,221.34 173.90,221.43 174.45,221.51 175.00,221.60 175.55,221.66 176.10,221.72 176.65,221.78 177.20,221.84 177.75,221.90 178.30,221.96 178.85,222.02 179.40,222.08 179.95,222.14 180.50,222.21 181.05,222.27 181.60,222.33 182.15,222.39 182.70,222.45 183.25,222.51 183.80,222.57 184.35,222.63 184.90,222.69 185.45,222.73 186.00,222.76 186.55,222.79 187.10,222.83 187.65,222.86 188.20,222.89 188.75,222.93 189.30,222.96 189.85,222.99 190.40,223.02 190.95,223.06 191.50,223.09 192.05,223.12 192.60,223.16 193.15,223.19 193.70,223.22 194.25,223.26 194.80,223.29 195.35,223.32 195.90,223.35 196.45,223.39 197.00,223.42 197.55,223.45 198.10,223.49 198.65,223.52 199.20,223.55 199.75,223.59 200.30,223.61 200.85,223.63 201.40,223.66 201.95,223.68 202.50,223.70 203.05,223.72 203.60,223.74 204.15,223.77 204.70,223.79 205.25,223.81 205.80,223.83 206.35,223.85 206.90,223.88 207.45,223.90 208.00,223.92 208.55,223.94 209.10,223.96 209.65,223.99 210.20,224.01 210.75,224.03 211.30,224.05 211.85,224.07 212.40,224.10 212.95,224.12 213.50,224.14 214.05,224.16 214.60,224.18 215.15,224.20 215.70,224.21 216.25,224.22 216.80,224.23 217.35,224.24 217.90,224.24 218.45,224.25 219.00,224.26 219.55,224.27 220.10,224.28 220.65,224.28 221.20,224.29 221.75,224.30 222.30,224.31 222.85,224.32 223.40,224.33 223.95,224.33 224.50,224.34 225.05,224.35 225.60,224.36 226.15,224.37 226.70,224.38 227.25,224.38 227.80,224.39 228.35,224.40 228.90,224.41 229.45,224.42 230.00,224.43 230.55,224.43 231.10,224.44 231.65,224.45 232.20,224.46 232.75,224.47 233.30,224.47 233.85,224.48 234.40,224.49 234.95,224.50 235.50,224.50 236.05,224.50 236.60,224.50 237.15,224.50 237.70,224.50 238.25,224.50 238.80,224.50 239.35,224.50 239.90,224.50 240.45,224.50 241.00,224.50 241.55,224.50 242.10,224.50 242.65,224.50 243.20,224.50 243.75,224.50 244.30,224.50 244.85,224.50 245.40,224.50 245.95,224.50 246.50,224.50 247.05,224.50 247.60,224.50 248.15,224.50 248.70,224.50 249.25,224.50 249.80,224.50 250.35,224.50 250.90,224.50 251.45,224.50 252.00,224.50 252.55,224.50 253.10,224.50 253.65,224.50 254.20,224.50 254.75,224.50 255.30,224.50 255.85,224.50 256.40,224.50 256.95,224.50 257.50,224.50 258.05,224.50 258.60,224.50 259.15,224.50 259.70,224.50 260.25,224.50 260.80,224.50 261.35,224.50 261.90,224.50 262.45,224.50 263.00,224.50 263.55,224.50 264.10,224.50 264.65,224.50 265.20,224.50 265.75,224.50 266.30,224.50 266.85,224.50 267.40,224.50 267.95,224.50 268.50,224.50 269.05,224.50 269.60,224.50 270.15,224.50 270.70,224.50 271.25,224.50 271.80,224.50 272.35,224.50 272.90,224.50 273.45,224.50 274.00,224.50 274.55,224.50 275.10,224.50 275.65,224.50 276.20,224.50 276.75,224.50 277.30,224.50 277.85,224.50 278.40,224.50 278.95,224.50 279.50,224.50 280.05,224.50 280.60,224.50 281.15,224.50 281.70,224.50 282.25,224.50 282.80,224.50 283.35,224.50 283.90,224.50 284.45,224.50 285.00,224.50 285.55,224.50 286.10,224.50 286.65,224.50 287.20,224.50 287.75,224.50 288.30,224.50 288.85,224.50 289.40,224.50 289.95,224.50 290.50,224.50 291.05,224.50 291.60,224.50 292.15,224.50 292.70,224.50 293.25,224.50 293.80,224.50 294.35,224.50 294.90,224.50 295.45,224.50 296.00,224.50 296.55,224.50 297.10,224.50 297.65,224.50 298.20,224.50 298.75,224.50 299.30,224.50 299.85,224.50 300.40,224.50 300.95,224.50 301.50,224.50 302.05,224.50 302.60,224.50 303.15,224.50 303.70,224.50 304.25,224.50 304.80,224.50 305.35,224.50 305.90,224.50 306.45,224.50 307.00,224.50 307.55,224.50 308.10,224.50 308.65,224.50 309.20,224.50 309.75,224.50 310.30,224.50 310.85,224.50 311.40,224.50 311.95,224.50 312.50,224.50 313.05,224.50 313.60,224.50 314.15,224.50 314.70,224.50 315.25,224.50 315.80,224.50 316.35,224.50 316.90,224.50 317.45,224.50 318.00,224.50 318.55,224.50 319.10,224.50 319.65,224.50 320.20,224.50 320.75,224.50 321.30,224.50 321.85,224.50 322.40,224.50 322.95,224.50 323.50,224.50 324.05,224.50 324.60,224.50 325.15,224.50 325.70,224.50 326.25,224.50 326.80,224.50 327.35,224.50 327.90,224.50 328.45,224.50 329.00,224.50 329.55,224.50 330.10,224.50 330.65,224.50 331.20,224.50 331.75,224.50 332.30,224.50 332.85,224.50 333.40,224.50 333.95,224.50 334.50,224.50 335.05,224.50 335.60,224.50 336.15,224.50 336.70,224.50 337.25,224.50 337.80,224.50 338.35,224.50 338.90,224.50 339.45,224.50 340.00,224.50 340.55,224.50" fill="none" stroke="#000" stroke-width="1.5" stroke-linejoin="round"/>
</g>
<rect x="41.70" y="4.30" width="300.40" height="220.20" fill="none" stroke="#000" stroke-opacity="0.25" stroke-width="2.8"/>
<rect x="41.70" y="4.30" width="300.40" height="220.20" fill="none" stroke="#000" stroke-width="1.45"/>
<path d="M41.70 224.50V229.20M41.70 224.50H37.00M101.78 224.50V229.20M41.70 180.46H37.00M161.86 224.50V229.20M41.70 136.42H37.00M221.94 224.50V229.20M41.70 92.38H37.00M282.02 224.50V229.20M41.70 48.34H37.00M342.10 224.50V229.20M41.70 4.30H37.00" stroke="#000" stroke-width="0.85"/>
<text x="41.70" y="241.2" font-size="13.6" text-anchor="middle" textLength="17.6" lengthAdjust="spacingAndGlyphs">0.0</text>
<text x="33.8" y="229.10" font-size="13.6" text-anchor="end" textLength="17.6" lengthAdjust="spacingAndGlyphs">0.0</text>
<text x="101.78" y="241.2" font-size="13.6" text-anchor="middle" textLength="17.6" lengthAdjust="spacingAndGlyphs">0.2</text>
<text x="33.8" y="185.06" font-size="13.6" text-anchor="end" textLength="17.6" lengthAdjust="spacingAndGlyphs">0.2</text>
<text x="161.86" y="241.2" font-size="13.6" text-anchor="middle" textLength="17.6" lengthAdjust="spacingAndGlyphs">0.4</text>
<text x="33.8" y="141.02" font-size="13.6" text-anchor="end" textLength="17.6" lengthAdjust="spacingAndGlyphs">0.4</text>
<text x="221.94" y="241.2" font-size="13.6" text-anchor="middle" textLength="17.6" lengthAdjust="spacingAndGlyphs">0.6</text>
<text x="33.8" y="96.98" font-size="13.6" text-anchor="end" textLength="17.6" lengthAdjust="spacingAndGlyphs">0.6</text>
<text x="282.02" y="241.2" font-size="13.6" text-anchor="middle" textLength="17.6" lengthAdjust="spacingAndGlyphs">0.8</text>
<text x="33.8" y="52.94" font-size="13.6" text-anchor="end" textLength="17.6" lengthAdjust="spacingAndGlyphs">0.8</text>
<text x="342.10" y="241.2" font-size="13.6" text-anchor="middle" textLength="17.6" lengthAdjust="spacingAndGlyphs">1.0</text>
<text x="33.8" y="8.90" font-size="13.6" text-anchor="end" textLength="17.6" lengthAdjust="spacingAndGlyphs">1.0</text>
<text x="191.7" y="256.3" style="stroke-width:0.12px" font-size="14.3" text-anchor="middle" textLength="75.6" lengthAdjust="spacingAndGlyphs">Redshift (z)</text>
<text transform="translate(9.9 114.0) rotate(-90)" style="stroke-width:0.12px" font-size="14.3" text-anchor="middle" textLength="118.2" lengthAdjust="spacingAndGlyphs">Sample Efficiency</text>
<rect x="172.7" y="8.8" width="164.3" height="46.3" rx="2" fill="#fff" fill-opacity="0.8" stroke="#d6d6d6" stroke-width="1.1"/>
<line x1="176" y1="16.90" x2="196.6" y2="16.90" stroke="#3c3c3c" stroke-width="1.5"/>
<text x="204.2" y="20.50" style="stroke-width:0.1px" font-size="10.9" textLength="117.3" lengthAdjust="spacingAndGlyphs">Signal After Quality Cut</text>
<line x1="176" y1="31.25" x2="196.6" y2="31.25" stroke="#e21e4b" stroke-width="1.5"/>
<text x="204.2" y="34.85" style="stroke-width:0.1px" font-size="10.9" textLength="99.6" lengthAdjust="spacingAndGlyphs">Signal After All Cuts</text>
<line x1="176" y1="45.60" x2="196.6" y2="45.60" stroke="#1a1a98" stroke-width="1.5"/>
<text x="204.2" y="49.20" style="stroke-width:0.1px" font-size="10.9" textLength="127.9" lengthAdjust="spacingAndGlyphs">Background After All Cuts</text>
</svg>
</body></html>
